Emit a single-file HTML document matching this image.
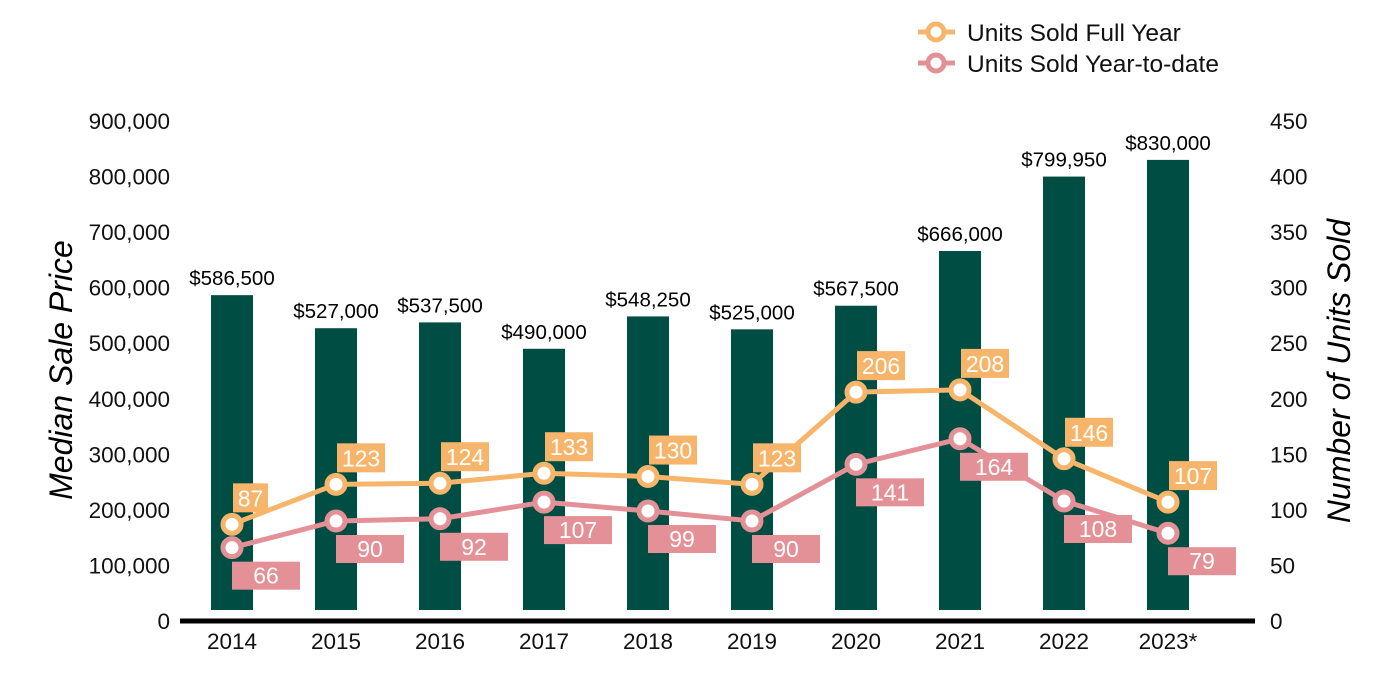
<!DOCTYPE html>
<html><head><meta charset="utf-8"><style>
body{margin:0;background:#fff}
svg{display:block;font-family:"Liberation Sans",Arial,sans-serif}
</style></head><body>
<svg id="chart" width="1400" height="700" viewBox="0 0 1400 700"></svg>
<script>
const years=["2014","2015","2016","2017","2018","2019","2020","2021","2022","2023*"];
const prices=[586500,527000,537500,490000,548250,525000,567500,666000,799950,830000];
const priceLabels=["$586,500","$527,000","$537,500","$490,000","$548,250","$525,000","$567,500","$666,000","$799,950","$830,000"];
const fullYear=[87,123,124,133,130,123,206,208,146,107];
const ytd=[66,90,92,107,99,90,141,164,108,79];
const leftTicks=[0,100000,200000,300000,400000,500000,600000,700000,800000,900000];
const rightTicks=[0,50,100,150,200,250,300,350,400,450];

const NS="http://www.w3.org/2000/svg";
const svg=document.getElementById('chart');
function el(tag,attrs,text){const e=document.createElementNS(NS,tag);for(const k in attrs)e.setAttribute(k,attrs[k]);if(text!=null)e.textContent=text;svg.appendChild(e);return e;}
const y0=621,yTop=121;
const yL=v=>y0-(v/900000)*(y0-yTop);
const yR=v=>y0-(v/450)*(y0-yTop);
const xC=i=>232+i*104;
const fmt=v=>v.toLocaleString('en-US');

leftTicks.forEach(t=>{const e=el('text',{x:170,y:yL(t)+8,'text-anchor':'end','font-size':22.5,fill:'#111'},fmt(t));

});
rightTicks.forEach(t=>{const e=el('text',{x:1270,y:yR(t)+8,'text-anchor':'start','font-size':22.5,fill:'#111'},String(t));

});

prices.forEach((p,i)=>{const top=yL(p);
const b=el('rect',{x:xC(i)-21,y:top,width:42,height:610-top,fill:'#004d43'});


const t=el('text',{x:xC(i),y:top-10,'text-anchor':'middle','font-size':20.5,fill:'#000'},priceLabels[i]);


const xl=el('text',{x:xC(i),y:649,'text-anchor':'middle','font-size':22.5,fill:'#111'},years[i]);

});

const axis=el('line',{x1:180,x2:1255,y1:621,y2:621,stroke:'#000','stroke-width':5});



function series(vals,color,name){
const l=el('polyline',{points:vals.map((v,i)=>xC(i)+','+yR(v)).join(' '),fill:'none',stroke:color,'stroke-width':5});


vals.forEach((v,i)=>{const c=el('circle',{cx:xC(i),cy:yR(v),r:9,fill:'#fff',stroke:color,'stroke-width':5});

});
}
series(fullYear,'#f6b56a','full-year');
series(ytd,'#e39196','ytd');

fullYear.forEach((v,i)=>{const w=String(v).length*13+9;const x=xC(i)+1,y=yR(v)-41;
const r=el('rect',{x:x,y:y,width:w,height:29,fill:'#f6b56a'});


const t=el('text',{x:x+w/2,y:y+23,'text-anchor':'middle','font-size':23,fill:'#fff'},String(v));

});
ytd.forEach((v,i)=>{const x=xC(i),y=yR(v)+14;
const r=el('rect',{x:x,y:y,width:68,height:28,fill:'#e39196'});


const t=el('text',{x:x+34,y:y+22,'text-anchor':'middle','font-size':23,fill:'#fff'},String(v));

});

const lt=el('text',{x:0,y:0,transform:'translate(72,370) rotate(-90)','text-anchor':'middle','font-size':32,'font-style':'italic',fill:'#000'},'Median Sale Price');


const rt=el('text',{x:0,y:0,transform:'translate(1350,371) rotate(-90)','text-anchor':'middle','font-size':32,'font-style':'italic',fill:'#000'},'Number of Units Sold');



[['Units Sold Full Year','#f6b56a',32],['Units Sold Year-to-date','#e39196',63]].forEach(([label,c,y])=>{
const ln=el('line',{x1:918,x2:955,y1:y,y2:y,stroke:c,'stroke-width':5});


const ci=el('circle',{cx:936,cy:y,r:8,fill:'#fff',stroke:c,'stroke-width':5});


const t=el('text',{x:967,y:y+9,'font-size':24.5,fill:'#111'},label);

});
</script>
</body></html>
